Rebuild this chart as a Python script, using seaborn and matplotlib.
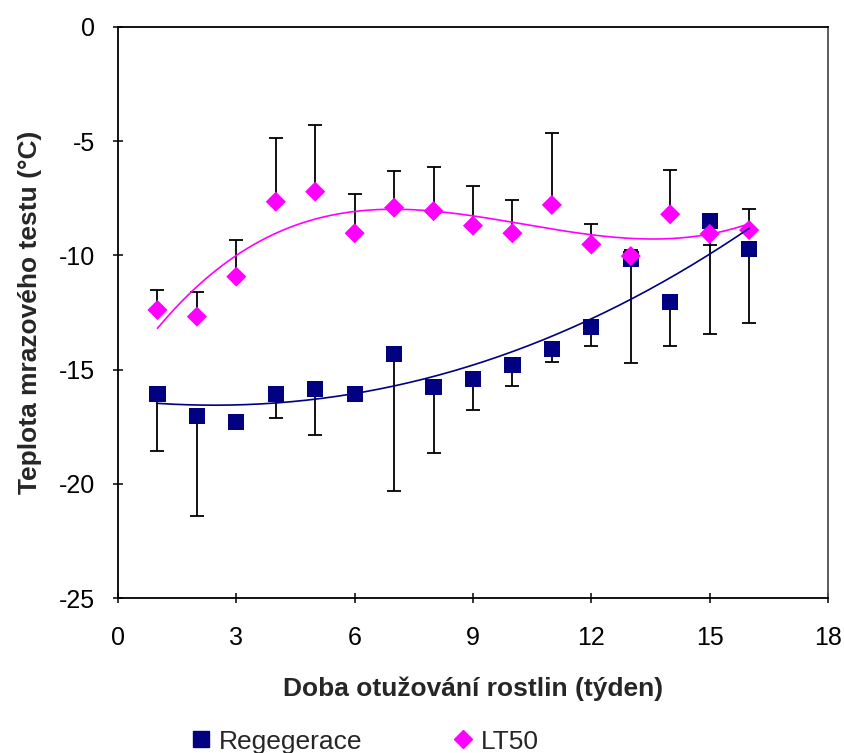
import numpy as np
import pandas as pd
import matplotlib
matplotlib.use("Agg")
import matplotlib.pyplot as plt
import seaborn as sns
from matplotlib.lines import Line2D

weeks = [1, 2, 3, 4, 5, 6, 7, 8, 9, 10, 11, 12, 13, 14, 15, 16]
regen = [-16.07, -17.03, -17.31, -16.07, -15.85, -16.07, -14.32, -15.78,
         -15.43, -14.80, -14.10, -13.12, -10.17, -12.05, -8.48, -9.73]
regen_err_low = [2.51, 4.37, 0.0, 1.03, 2.03, 0.0, 6.0, 2.86,
                 1.34, 0.90, 0.55, 0.83, 4.56, 1.90, 4.98, 3.24]
lt50 = [-12.39, -12.68, -10.93, -7.65, -7.21, -9.03, -7.91, -8.06,
        -8.70, -9.03, -7.79, -9.52, -10.03, -8.20, -9.06, -8.89]
lt50_err_up = [0.88, 1.09, 1.60, 2.80, 2.92, 1.72, 1.60, 1.94,
               1.75, 1.46, 3.16, 0.89, 0.27, 1.94, 0.0, 0.91]
lt50_err_low = [0, 0, 0, 0, 0, 0, 0, 0, 0, 0, 0, 0, 0, 0, 0.49, 0]

xlabel = "Doba otužování rostlin (týden)"
ylabel = "Teplota mrazového testu (°C)"
names = ["Regegerace", "LT50"]

navy = "#000080"
magenta = "#FF00FF"

sns.set_theme(style="white")
plt.rcParams['font.family'] = ['Liberation Sans', 'DejaVu Sans']
plt.rcParams['axes.unicode_minus'] = False

fig = plt.figure(figsize=(8.45, 7.53), dpi=100)
ax = fig.add_axes([118/845, 1-598/753, (828-118)/845, (598-27)/753])

x = np.array(weeks, dtype=float)
ax.errorbar(x, regen, yerr=[regen_err_low, [0]*len(weeks)], fmt='none',
            ecolor='black', elinewidth=1.3, capsize=5, capthick=1.3, zorder=2)
ax.errorbar(x, lt50, yerr=[lt50_err_low, lt50_err_up], fmt='none',
            ecolor='black', elinewidth=1.3, capsize=5, capthick=1.3, zorder=2)

df_r = pd.DataFrame({"x": weeks, "y": regen})
df_l = pd.DataFrame({"x": weeks, "y": lt50})
sns.scatterplot(data=df_r, x="x", y="y", color=navy, marker="s",
                s=135, edgecolor="none", ax=ax, zorder=3, legend=False)
sns.scatterplot(data=df_l, x="x", y="y", color=magenta, marker="D",
                s=105, edgecolor="none", ax=ax, zorder=3, legend=False)

xs = np.linspace(1, 16, 200)
for ys, col in [(regen, navy), (lt50, magenta)]:
    c = np.polyfit(x, ys, 3)
    sns.lineplot(x=xs, y=np.polyval(c, xs), color=col, lw=1.2, ax=ax, zorder=4)

ax.set_xlim(0, 18)
ax.set_ylim(-25, 0)
ax.set_xticks(range(0, 19, 3))
ax.set_yticks(range(-25, 1, 5))
ax.tick_params(axis='both', direction='inout', length=7, width=1.1,
               labelsize=18, colors='black', bottom=True, left=True)
ax.tick_params(axis='y', pad=13)
ax.tick_params(axis='x', pad=17)
for s in ['left', 'bottom', 'top']:
    ax.spines[s].set_color('black')
    ax.spines[s].set_linewidth(1.3)
ax.spines['right'].set_color('#505050')
ax.spines['right'].set_linewidth(1.3)

ax.set_xlabel(xlabel, fontsize=19, fontweight='bold', labelpad=19)
ax.set_ylabel(ylabel, fontsize=19, fontweight='bold', labelpad=12)

handles = [Line2D([], [], marker='s', color=navy, ls='none', markersize=11),
           Line2D([], [], marker='D', color=magenta, ls='none', markersize=9)]
fig.legend(handles, names, loc='center', bbox_to_anchor=(0.43, 0.015),
           ncol=2, frameon=False, fontsize=19, columnspacing=3.3,
           handletextpad=0.2, handlelength=1.0)

fig.savefig("out.png", dpi=100)
